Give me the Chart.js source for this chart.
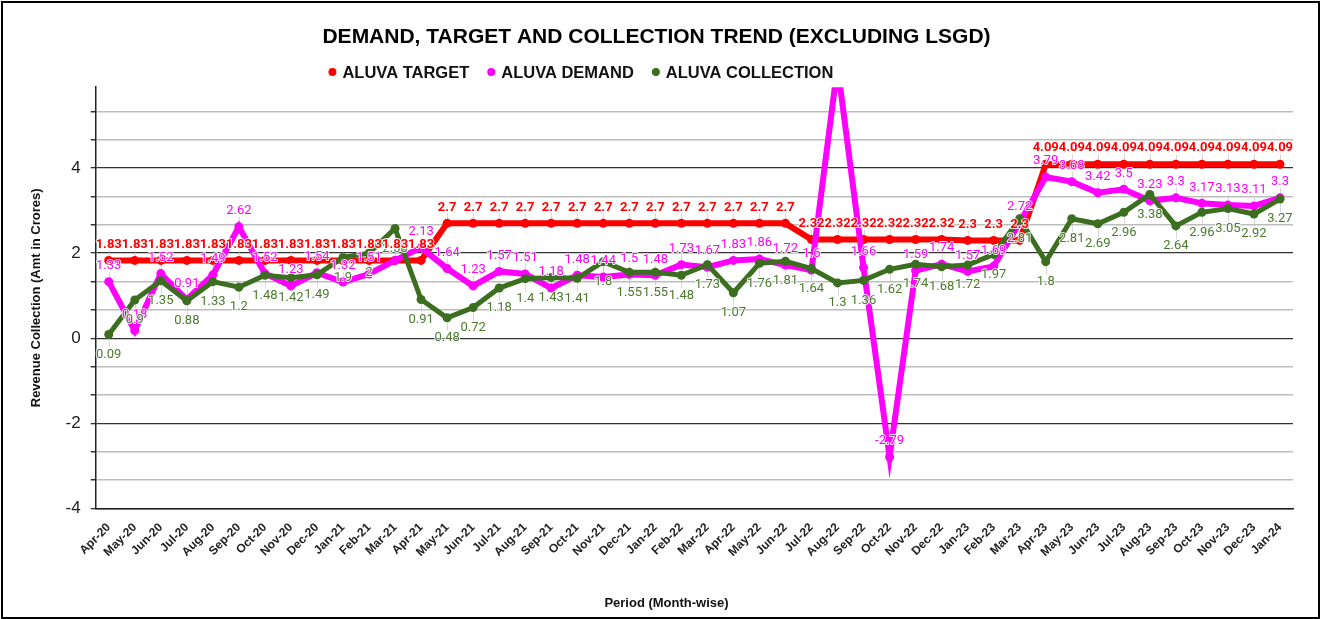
<!DOCTYPE html>
<html>
<head>
<meta charset="utf-8">
<title>Demand, Target and Collection Trend</title>
<script src="https://cdn.jsdelivr.net/npm/chart.js@4.4.1/dist/chart.umd.min.js"></script>
<style>
    html, body { margin: 0; padding: 0; background: #fff; }
    #trendChart { display: block; }
</style>
</head>
<body>
<canvas id="trendChart" width="1321" height="619"></canvas>
<script>
// Месяцы (Apr-20 ... Jan-24)
const months = [
    'Apr-20', 'May-20', 'Jun-20', 'Jul-20', 'Aug-20', 'Sep-20', 'Oct-20', 'Nov-20', 'Dec-20',
    'Jan-21', 'Feb-21', 'Mar-21', 'Apr-21', 'May-21', 'Jun-21', 'Jul-21', 'Aug-21', 'Sep-21',
    'Oct-21', 'Nov-21', 'Dec-21', 'Jan-22', 'Feb-22', 'Mar-22', 'Apr-22', 'May-22', 'Jun-22',
    'Jul-22', 'Aug-22', 'Sep-22', 'Oct-22', 'Nov-22', 'Dec-22', 'Jan-23', 'Feb-23', 'Mar-23',
    'Apr-23', 'May-23', 'Jun-23', 'Jul-23', 'Aug-23', 'Sep-23', 'Oct-23', 'Nov-23', 'Dec-23',
    'Jan-24'
];

const targetValues = [
    1.83, 1.83, 1.83, 1.83, 1.83, 1.83, 1.83, 1.83, 1.83,
    1.83, 1.83, 1.83, 1.83, 2.7, 2.7, 2.7, 2.7, 2.7,
    2.7, 2.7, 2.7, 2.7, 2.7, 2.7, 2.7, 2.7, 2.7,
    2.32, 2.32, 2.32, 2.32, 2.32, 2.32, 2.3, 2.3, 2.3,
    4.09, 4.09, 4.09, 4.09, 4.09, 4.09, 4.09, 4.09, 4.09,
    4.09
];

// Aug-22 выходит за верх графика, подпись обрезана
const demandValues = [
    1.33, 0.18, 1.52, 0.91, 1.49, 2.62, 1.52, 1.23, 1.54,
    1.32, 1.51, 1.83, 2.13, 1.64, 1.23, 1.57, 1.51, 1.18,
    1.48, 1.44, 1.5, 1.48, 1.73, 1.67, 1.83, 1.86, 1.72,
    1.6, 6.4, 1.66, -2.79, 1.59, 1.74, 1.57, 1.69, 2.72,
    3.79, 3.68, 3.42, 3.5, 3.23, 3.3, 3.17, 3.13, 3.11,
    3.3
];

const collectionValues = [
    0.09, 0.9, 1.35, 0.88, 1.33, 1.2, 1.48, 1.42, 1.49,
    1.9, 2, 2.58, 0.91, 0.48, 0.72, 1.18, 1.4, 1.43,
    1.41, 1.8, 1.55, 1.55, 1.48, 1.73, 1.07, 1.76, 1.81,
    1.64, 1.3, 1.36, 1.62, 1.74, 1.68, 1.72, 1.97, 2.81,
    1.8, 2.81, 2.69, 2.96, 3.38, 2.64, 2.96, 3.05, 2.92,
    3.27
];

const yMin = -4;
const yMax = 5.9;
const yStep = 1 / 3;

const chartTitle = 'DEMAND, TARGET AND COLLECTION TREND (EXCLUDING LSGD)';
const xTitle = 'Period (Month-wise)';
const axisFont = 'Liberation Sans, Arial, sans-serif';
const labelFont = 'Roboto, Liberation Sans, sans-serif';

// Стили подписей значений для каждого набора данных
const labelStyles = [
    { color: '#ff0000', weight: 'bold', offset: -16 },
    { color: '#ff00ff', weight: 'normal', offset: -16 },
    { color: '#4a7a2c', weight: 'normal', offset: 20 }
];

const isMajor = (v) => Math.abs(v / 2 - Math.round(v / 2)) < 1e-6;

const frameBackground = {
    id: 'frameBackground',
    beforeDraw(chart) {
        const ctx = chart.ctx;
        ctx.save();
        ctx.fillStyle = '#ffffff';
        ctx.fillRect(0, 0, chart.width, chart.height);
        ctx.restore();
    },
    afterDraw(chart) {
        const ctx = chart.ctx;
        ctx.save();
        ctx.strokeStyle = '#000';
        ctx.lineWidth = 2;
        ctx.strokeRect(2, 2, chart.width - 4, chart.height - 3);

        // подпись оси X по центру всего рисунка
        const xScale = chart.scales.x;
        ctx.font = `bold 13px ${axisFont}`;
        ctx.fillStyle = '#111';
        ctx.textAlign = 'center';
        ctx.textBaseline = 'middle';
        ctx.fillText(xTitle, chart.width / 2 + 6, xScale.bottom - 2 - 8);
        ctx.restore();
    }
};

// Легенда рисуется от левого края заголовка, как в исходнике
const titleLegend = {
    id: 'titleLegend',
    afterDraw(chart) {
        const ctx = chart.ctx;
        ctx.save();
        ctx.font = `bold 21px ${axisFont}`;
        let x = (chart.width - ctx.measureText(chartTitle).width) / 2 + 2;
        const y = 72;
        ctx.font = `bold 16.5px ${axisFont}`;
        ctx.textBaseline = 'middle';
        ctx.textAlign = 'left';
        chart.data.datasets.forEach((ds) => {
            ctx.fillStyle = ds.borderColor;
            ctx.beginPath();
            ctx.arc(x + 4, y, 4, 0, Math.PI * 2);
            ctx.fill();
            x += 14;
            ctx.fillStyle = '#111';
            ctx.fillText(ds.label, x, y + 1);
            x += ctx.measureText(ds.label).width + 18;
        });
        ctx.restore();
    }
};

const valueLabels = {
    id: 'valueLabels',
    beforeDatasetsDraw(chart) {
        // тонкие выноски от точки к подписи
        const ctx = chart.ctx;
        const area = chart.chartArea;
        ctx.save();
        ctx.strokeStyle = 'rgba(190,190,190,0.6)';
        ctx.lineWidth = 1;
        chart.data.datasets.forEach((ds, i) => {
            const style = labelStyles[i];
            chart.getDatasetMeta(i).data.forEach((pt) => {
                if (pt.y < area.top || pt.y > area.bottom) return;
                const end = pt.y + style.offset + (style.offset < 0 ? 6 : -7);
                ctx.beginPath();
                ctx.moveTo(Math.round(pt.x) + 0.5, pt.y);
                ctx.lineTo(Math.round(pt.x) + 0.5, end);
                ctx.stroke();
            });
        });
        ctx.restore();
    },
    afterDatasetsDraw(chart) {
        const ctx = chart.ctx;
        const area = chart.chartArea;
        ctx.save();
        ctx.textAlign = 'center';
        ctx.textBaseline = 'middle';
        ctx.lineJoin = 'round';
        [1, 2, 0].forEach((i) => {
            const ds = chart.data.datasets[i];
            const style = labelStyles[i];
            ctx.font = `${style.weight} 13px ${labelFont}`;
            chart.getDatasetMeta(i).data.forEach((pt, j) => {
                if (pt.y < area.top || pt.y > area.bottom) return;
                const text = String(ds.data[j]);
                ctx.strokeStyle = 'rgba(255,255,255,0.85)';
                ctx.lineWidth = 2;
                ctx.strokeText(text, pt.x, pt.y + style.offset);
                ctx.fillStyle = style.color;
                ctx.fillText(text, pt.x, pt.y + style.offset);
            });
        });
        ctx.restore();
    }
};

new Chart(document.getElementById('trendChart'), {
    type: 'line',
    data: {
        labels: months,
        datasets: [
            {
                label: 'ALUVA TARGET',
                data: targetValues,
                borderColor: '#ff0000',
                backgroundColor: '#ff0000',
                borderWidth: 6,
                pointRadius: 4.5,
                pointBorderWidth: 0,
                order: 3
            },
            {
                label: 'ALUVA DEMAND',
                data: demandValues,
                borderColor: '#ff00ff',
                backgroundColor: '#ff00ff',
                borderWidth: 6,
                pointRadius: 4.5,
                pointBorderWidth: 0,
                order: 2
            },
            {
                label: 'ALUVA COLLECTION',
                data: collectionValues,
                borderColor: '#3b6e1f',
                backgroundColor: '#3b6e1f',
                borderWidth: 5,
                pointRadius: 4.5,
                pointBorderWidth: 0,
                order: 1
            }
        ]
    },
    options: {
        responsive: false,
        animation: false,
        layout: {
            padding: { top: 8, right: 28, bottom: 6, left: 20 }
        },
        plugins: {
            title: {
                display: true,
                text: chartTitle,
                color: '#000',
                font: { family: axisFont, size: 21, weight: 'bold' },
                padding: { top: 17, bottom: 37 }
            },
            legend: { display: false },
            tooltip: { enabled: false }
        },
        scales: {
            x: {
                offset: true,
                grid: { display: false },
                border: { display: true, color: '#222', width: 1.5 },
                ticks: {
                    autoSkip: false,
                    maxRotation: 45,
                    minRotation: 45,
                    padding: 4,
                    color: '#222',
                    font: { family: axisFont, size: 12, weight: 'bold' }
                },
                title: {
                    // место под подпись оставляем, сама подпись рисуется плагином
                    display: true,
                    text: xTitle,
                    color: 'rgba(0,0,0,0)',
                    font: { family: axisFont, size: 13, weight: 'bold' },
                    padding: { top: 32, bottom: 2 }
                }
            },
            y: {
                min: yMin,
                max: yMax,
                afterBuildTicks(scale) {
                    const ticks = [];
                    for (let k = 0; yMin + k * yStep <= yMax + 1e-9; k++) {
                        ticks.push({ value: Math.round((yMin + k * yStep) * 1e6) / 1e6 });
                    }
                    scale.ticks = ticks;
                },
                grid: {
                    color: (ctx) => isMajor(ctx.tick.value) ? '#333' : '#bdbdbd',
                    lineWidth: (ctx) => isMajor(ctx.tick.value) ? 1.3 : 1.5,
                    tickColor: '#333',
                    tickLength: 5
                },
                border: { display: true, color: '#222', width: 1.5 },
                ticks: {
                    padding: 10,
                    color: '#222',
                    font: { family: axisFont, size: 17 },
                    callback: (v) => isMajor(v) ? String(Math.round(v)) : ''
                },
                title: {
                    display: true,
                    text: 'Revenue Collection (Amt in Crores)',
                    color: '#111',
                    font: { family: axisFont, size: 13, weight: 'bold' },
                    padding: { top: 9, bottom: 11 }
                }
            }
        }
    },
    plugins: [frameBackground, titleLegend, valueLabels]
});
</script>
</body>
</html>
